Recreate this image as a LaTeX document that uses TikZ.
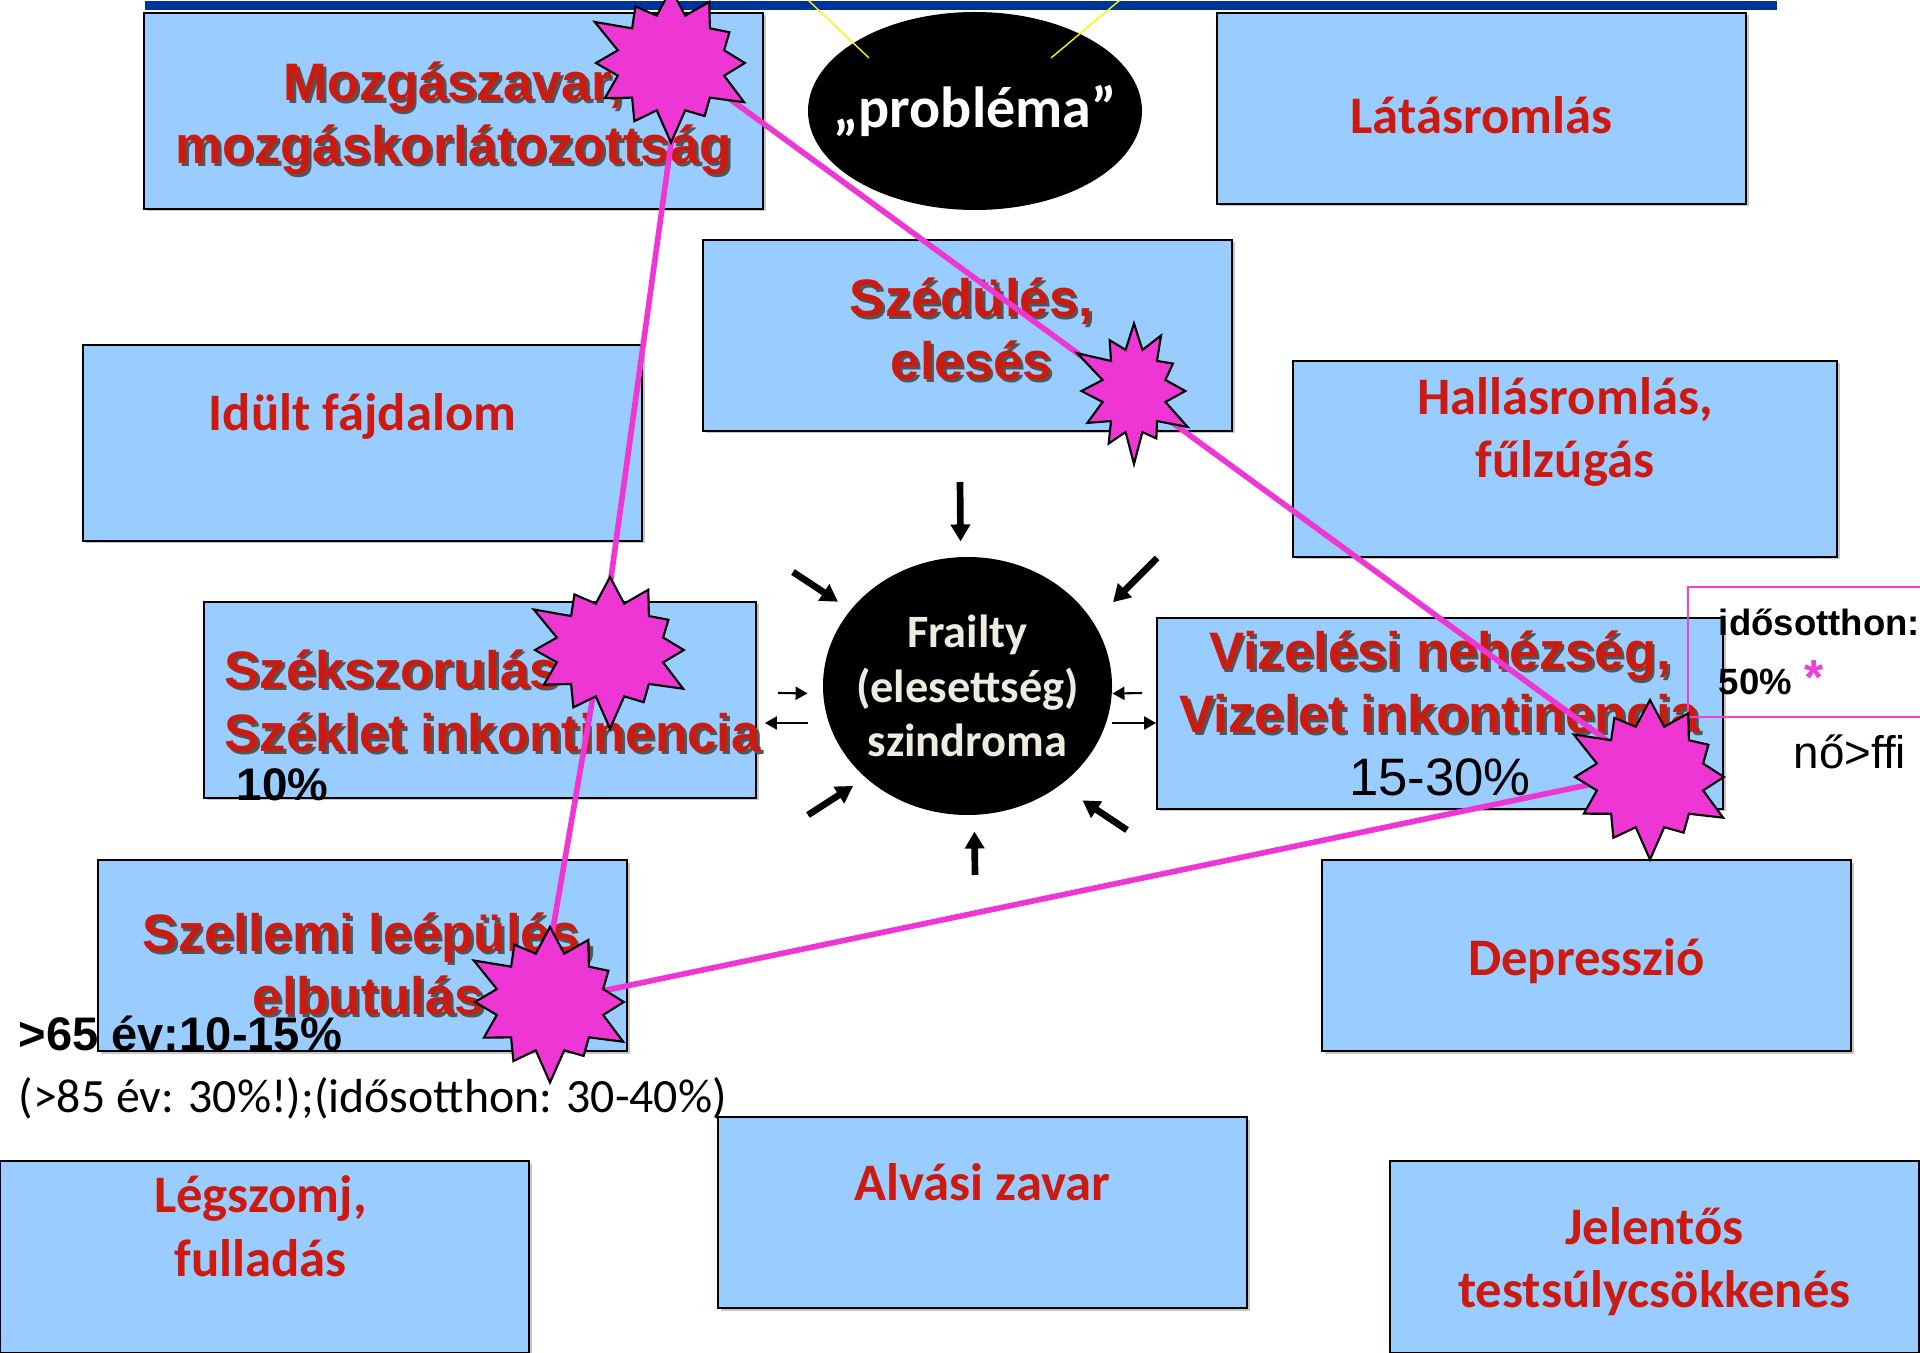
\documentclass[tikz,border=0pt]{standalone}
\usepackage{fontspec}
\setmainfont{Liberation Sans}
\newfontfamily\calibrif{Carlito}
\definecolor{boxblue}{RGB}{153,204,255}
\definecolor{titlered}{RGB}{204,26,16}
\definecolor{burstpink}{RGB}{238,54,212}
\definecolor{framepink}{RGB}{236,64,214}
\definecolor{barblue}{RGB}{0,51,153}
\definecolor{creamtext}{RGB}{238,236,224}
\definecolor{shadowgray}{RGB}{85,85,85}
\usepackage{tikz}
\usetikzlibrary{calc, positioning, arrows.meta, shapes.geometric,
                 shapes.symbols, shadows}

\newcommand\tshadow[1]{\leavevmode\rlap{\kern0.8pt\raisebox{-0.8pt}{\color{shadowgray}#1}}#1}

\begin{document}
\begin{tikzpicture}[x=0.1mm, y=-0.1mm,
  box/.style={draw=black, line width=0.5pt, fill=boxblue, inner sep=0pt,
    drop shadow={shadow xshift=0.25mm, shadow yshift=-0.25mm, opacity=0.45}},
  redtxt/.style={text=titlered, font=\bfseries\fontsize{15}{18}\selectfont,
    align=center, inner sep=0pt},
  caltxt/.style={text=titlered, font=\calibrif\bfseries\fontsize{15}{18}\selectfont,
    align=center, inner sep=0pt},
  numtxt/.style={text=black, inner sep=0pt, anchor=base west},
  burst/.style={shape=starburst, starburst points=12,
    starburst point height=3.5mm, fill=burstpink, draw=black,
    line width=0.6pt, inner sep=0pt},
  link/.style={burstpink, line width=1.6pt},
  arw/.style={-{Triangle[width=1.9mm, length=1.7mm]}, line width=1.9pt},
  sarw/.style={-{Triangle[width=1.3mm, length=1.2mm]}, line width=0.6pt},
]
\useasboundingbox (0,0) rectangle (1920,1353);

% Top bar
\node[fill=barblue, anchor=north west, minimum width=163.2mm,
  minimum height=0.9mm, inner sep=0pt] (topbar) at (144,0) {};

% Boxes
\node[box, minimum width=61.9mm, minimum height=19.6mm] (mozg) at (453.5,111) {};
\node[box, minimum width=52.9mm, minimum height=19.1mm] (latas) at (1481.5,108.5) {};
\node[box, minimum width=52.9mm, minimum height=19.1mm] (szed) at (967.5,335.5) {};
\node[box, minimum width=55.9mm, minimum height=19.6mm] (idult) at (362.5,443) {};
\node[box, minimum width=54.4mm, minimum height=19.6mm] (hallas) at (1565,459) {};
\node[box, minimum width=55.2mm, minimum height=19.6mm] (szek) at (480,700) {};
\node[box, minimum width=56.6mm, minimum height=19.1mm] (vizel) at (1440,713.5) {};
\node[box, minimum width=52.9mm, minimum height=19.1mm] (szell) at (362.5,955.5) {};
\node[box, minimum width=52.9mm, minimum height=19.1mm] (depr) at (1586.5,955.5) {};
\node[box, minimum width=52.9mm, minimum height=19.2mm] (legsz) at (264.5,1257) {};
\node[box, minimum width=52.9mm, minimum height=19.1mm] (alvasi) at (982.5,1212.5) {};
\node[box, minimum width=52.9mm, minimum height=19.2mm] (jelent) at (1654.5,1257) {};

% Box texts
\node[redtxt] (mozg-t) at ($(mozg)+(0,9)$)
  {\tshadow{Mozgászavar,}\\\tshadow{mozgáskorlátozottság}};
\node[caltxt] (latas-t) at ($(latas)+(0,7)$) {Látásromlás};
\node[redtxt] (szed-t) at ($(szed)+(4,-5)$) {\tshadow{Szédülés,}\\\tshadow{elesés}};
\node[caltxt] (idult-t) at ($(idult.north)+(0,72)$) {Idült fájdalom};
\node[caltxt] (hallas-t) at ($(hallas.north)+(0,72)$) {Hallásromlás,\\fűlzúgás};
\node[redtxt, align=left, anchor=west] (szek-t) at (224,702)
  {\tshadow{Székszorulás}\\\tshadow{Széklet inkontinencia}};
\node[redtxt] (vizel-t) at (vizel)
  {\tshadow{Vizelési nehézség,}\\\tshadow{Vizelet inkontinencia}\\
  {\color{black}\mdseries 15-30\%}};
\node[redtxt] (szell-t) at ($(szell)+(6,10)$)
  {\tshadow{Szellemi leépülés,}\\\tshadow{elbutulás}};
\node[caltxt] (depr-t) at ($(depr)+(0,6)$) {Depresszió};
\node[caltxt] (legsz-t) at ($(legsz.north)+(-4,66)$) {Légszomj,\\fulladás};
\node[caltxt] (alvasi-t) at ($(alvasi.north)+(0,66)$) {Alvási zavar};
\node[caltxt] (jelent-t) at ($(jelent)+(0,5)$) {Jelentős\\testsúlycsökkenés};

% Ellipses
\node[ellipse, fill=black, minimum width=33.4mm, minimum height=19.8mm,
  inner sep=-4mm, text=white,
  font=\calibrif\bfseries\fontsize{16.5}{20}\selectfont] (prob)
  at (975,111) {„probléma”};
\node[ellipse, fill=black, minimum width=28.9mm, minimum height=25.8mm,
  inner sep=-4mm, text=creamtext, align=center,
  font=\calibrif\bfseries\fontsize{13.2}{15.5}\selectfont] (frailty)
  at (967.5,686) {Frailty\\(elesettség)\\szindroma};

% Yellow lines
\coordinate (ya) at (808,0);
\coordinate (yb) at (869,58);
\coordinate (yc) at (1120,0);
\coordinate (yd) at (1051,58);
\draw[yellow, line width=0.4pt] (ya) -- (yb);
\draw[yellow, line width=0.4pt] (yc) -- (yd);

% Arrows round the syndrome
\coordinate (aT) at (960,482);
\coordinate (aUL) at (793,572);
\coordinate (aUR) at (1157,558);
\coordinate (aL1) at (778,693);
\coordinate (aL2) at (808,723);
\coordinate (aR1) at (1142,693);
\coordinate (aR2) at (1112,723);
\coordinate (aLL) at (808,815);
\coordinate (aLR) at (1127,830);
\coordinate (aB) at (975,875);
\draw[arw, shorten >=1.5mm] (aT) -- (frailty.93);
\draw[arw, shorten >=1.45mm] (aUL) -- (frailty.147);
\draw[arw, shorten >=2.75mm] (aUR) -- (frailty.27);
\draw[sarw, shorten >=1.5mm] (aL1) -- (frailty.183);
\draw[sarw, shorten >=0.8mm] (aL2) -- (aL2 -| szek.east);
\draw[sarw] (aR1) -- (frailty.-3);
\draw[sarw] (aR2) -- (aR2 -| vizel.west);
\draw[arw, shorten >=1.45mm] (aLL) -- (frailty.222);
\draw[arw, shorten >=2.65mm] (aLR) -- (frailty.313);
\draw[arw, shorten >=1.6mm] (aB) -- (frailty.273);

% Figures
\node[numtxt, font=\bfseries\fontsize{13}{15}\selectfont] (pct10) at (236,800) {10\%};
\node[numtxt, font=\bfseries\fontsize{13.4}{16}\selectfont] (age65) at (18,1050)
  {>65 év:10-15\%};
\node[numtxt, font=\calibrif\fontsize{13.6}{16}\selectfont] (age85) at (18,1112)
  {(>85 év: 30\%!);(idősotthon: 30-40\%)};
\node[draw=framepink, line width=0.5pt, anchor=west, minimum height=13mm,
  inner xsep=3.1mm, inner ysep=0pt, text width=18mm, align=left,
  font=\bfseries\fontsize{10.4}{16.8}\selectfont] (home) at (1687,652)
  {idősotthon:\\50\% {\color{framepink}\fontsize{14}{16.8}\selectfont*}};
\node[numtxt, font=\fontsize{13}{15}\selectfont] (sex) at (1793,768) {nő>ffi};

% Pink links
\coordinate (p1) at (682,64);
\coordinate (p3) at (601,650);
\coordinate (p4) at (1650,772);
\coordinate (p5) at (540,1004);
\draw[link] (p1) -- (p4);
\draw[link] (p1) -- (p3) -- (p5);
\draw[link] (p4) -- (p5);

% Bursts
\node[burst, minimum width=18mm, minimum height=16.8mm] (st1) at (671,63) {};
\node[burst, minimum width=13.5mm, minimum height=15.5mm] (st2) at (1134,391) {};
\node[burst, minimum width=18mm, minimum height=16.6mm] (st3) at (610,650) {};
\node[burst, minimum width=18mm, minimum height=17.4mm] (st4) at (1650,777) {};
\node[burst, minimum width=18mm, minimum height=17mm] (st5) at (550,1002) {};
\end{tikzpicture}
\end{document}
